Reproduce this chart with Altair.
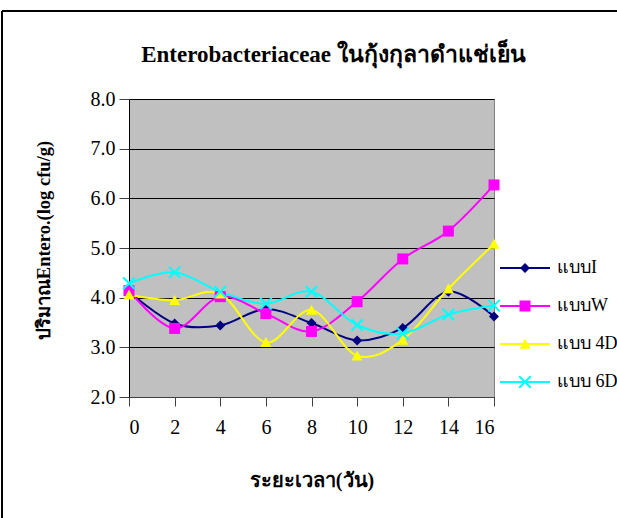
import altair as alt
import pandas as pd

# Storage time (days) and Enterobacteriaceae counts (log cfu/g) per treatment
days = [0, 2, 4, 6, 8, 10, 12, 14, 16]
series_names = ["แบบI", "แบบW", "แบบ 4D", "แบบ 6D"]
type_i = [4.12, 3.48, 3.44, 3.77, 3.49, 3.14, 3.39, 4.12, 3.62]
type_w = [4.14, 3.38, 4.02, 3.68, 3.32, 3.92, 4.78, 5.34, 6.27]
type_4d = [4.06, 3.95, 4.08, 3.10, 3.75, 2.83, 3.15, 4.18, 5.08]
type_6d = [4.29, 4.51, 4.12, 3.88, 4.12, 3.45, 3.28, 3.66, 3.84]
series_colors = ["#000080", "#FF00FF", "#FFFF00", "#00FFFF"]
y_ticks = [2, 3, 4, 5, 6, 7, 8]

rows = []
for name, vals in zip(series_names, [type_i, type_w, type_4d, type_6d]):
    for d, v in zip(days, vals):
        rows.append({"day": d, "value": v, "series": name, "key": name})
df = pd.DataFrame(rows)

FONT = "Times New Roman, Liberation Serif, serif"


def x_shape(e, w):
    # filled outline of an "X" marker with arm half-extent e and half-thickness w
    a = w / 2 ** 0.5
    c = w * 2 ** 0.5
    pts = [(-e + a, -e - a), (0, -c), (e - a, -e - a), (e + a, -e + a), (c, 0),
           (e + a, e - a), (e - a, e + a), (0, c), (-e + a, e + a), (-e - a, e - a),
           (-c, 0), (-e - a, -e + a)]
    return "M" + "L".join(f"{x:.3f},{y:.3f}" for x, y in pts) + "Z"


# marker outlines used on the plotted points (unit = 5 px at size 100)
point_shapes = [
    "M0,-1L1,0L0,1L-1,0Z",
    "M-1.1,-1.1L1.1,-1.1L1.1,1.1L-1.1,1.1Z",
    "M0,-1.05L1.1,0.95L-1.1,0.95Z",
    x_shape(1.15, 0.2),
]

# legend keys: a line segment with the marker on top (unit = 10 px at size 400)
seg = "M-2.5,-0.1L2.5,-0.1L2.5,0.1L-2.5,0.1Z"
legend_shapes = [
    seg + "M0,-0.5L0.5,0L0,0.5L-0.5,0Z",
    seg + "M-0.55,-0.55L0.55,-0.55L0.55,0.55L-0.55,0.55Z",
    seg + "M0,-0.52L0.55,0.47L-0.55,0.47Z",
    seg + x_shape(0.58, 0.1),
]

x_enc = alt.X(
    "day:Q",
    scale=alt.Scale(domain=[0, 16], nice=False, zero=False),
    axis=alt.Axis(
        values=days, title="ระยะเวลา(วัน)", grid=False, tickSize=9, labelPadding=11,
        domainColor="#404040", tickColor="#404040",
        labelFont=FONT, labelFontSize=20, labelColor="#000000",
        titleFontSize=20,
        titleX=182.5, titleY=83, titleBaseline="middle", titleAlign="center",
    ),
)
y_enc = alt.Y(
    "value:Q",
    scale=alt.Scale(domain=[2, 8], nice=False, zero=False),
    axis=alt.Axis(
        values=y_ticks, format=".1f", title="ปริมาณEntero.(log cfu/g)",
        tickSize=10, labelPadding=4, gridColor="#000000", gridWidth=1,
        domainColor="#000000", tickColor="#404040",
        labelFont=FONT, labelFontSize=20, labelColor="#000000",
        titleFontSize=18.5,
        titleX=-86, titleY=141, titleAngle=-90, titleBaseline="middle", titleAlign="center",
    ),
)
color_plot = alt.Color("series:N", scale=alt.Scale(domain=series_names, range=series_colors), legend=None)

base = alt.Chart(df)

lines = base.mark_line(strokeWidth=2, interpolate="cardinal").encode(x=x_enc, y=y_enc, color=color_plot)

points = base.mark_point(filled=True, size=100, opacity=1, strokeWidth=0).encode(
    x=x_enc, y=y_enc, color=color_plot,
    shape=alt.Shape("series:N", scale=alt.Scale(domain=series_names, range=point_shapes), legend=None),
)

key_legend = alt.Legend(
    title=None, orient="none", legendX=386, legendY=159,
    symbolSize=400, symbolOpacity=1, symbolStrokeWidth=0,
    labelFont=FONT, labelFontSize=18, labelColor="#000000",
    labelOffset=22, rowPadding=19, labelLimit=200,
)

# legend-only layer: no rows survive the filter, the scales carry the entries
legend_layer = base.transform_filter("datum.day < 0").mark_point(
    filled=True, size=400, opacity=1, strokeWidth=0
).encode(
    x=x_enc, y=y_enc,
    color=alt.Color("key:N", scale=alt.Scale(domain=series_names, range=series_colors), legend=key_legend),
    shape=alt.Shape("key:N", scale=alt.Scale(domain=series_names, range=legend_shapes), legend=key_legend),
)

# outer frame of the chart area
frame_data = alt.Chart(pd.DataFrame({"k": [0]}))
frame_top = frame_data.mark_rule(color="#000000", strokeWidth=2).encode(
    x=alt.value(-127), x2=alt.value(490), y=alt.value(-88)
)
frame_left = frame_data.mark_rule(color="#000000", strokeWidth=2).encode(
    x=alt.value(-127), y=alt.value(-88), y2=alt.value(425)
)

chart = (
    alt.layer(lines, points, legend_layer, frame_top, frame_left)
    .resolve_scale(color="independent", shape="independent")
    .properties(
        width=365,
        height=298,
        autosize=alt.AutoSizeParams(type="none"),
        padding={"left": 129, "top": 99, "right": 123, "bottom": 121},
        background="#FFFFFF",
        title=alt.TitleParams(
            "Enterobacteriaceae ในกุ้งกุลาดำแช่เย็น",
            font=FONT, fontSize=23, fontWeight="bold", color="#000000",
            anchor="middle", dx=22, offset=-57,
        ),
    )
    .configure_view(fill="#C0C0C0", stroke="#808080", strokeWidth=1)
    .configure_axis(
        titleFont=FONT, titleFontWeight="bold", titleColor="#000000",
        domainWidth=1, tickWidth=1,
    )
)

chart.save("out.html", embed_options={"renderer": "svg", "actions": False})
